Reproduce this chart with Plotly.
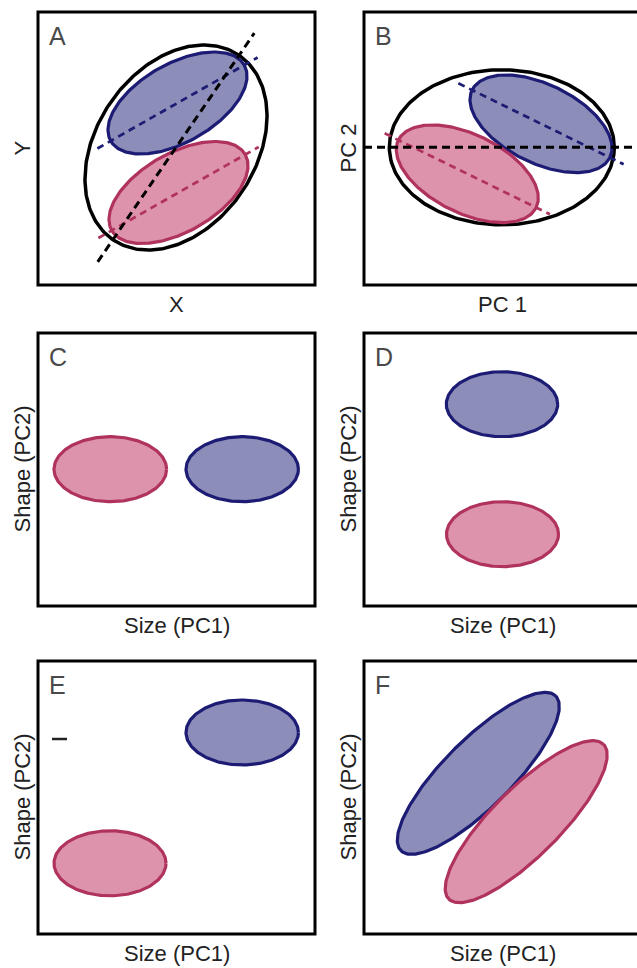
import numpy as np
import plotly.graph_objects as go

W, H = 637, 968

# ---- data (panel-relative units, origin at lower-left of each panel box) ----
panels = ["A", "B", "C", "D", "E", "F"]
x_titles = ["X", "PC 1", "Size (PC1)", "Size (PC1)", "Size (PC1)", "Size (PC1)"]
y_titles = ["Y", "PC 2", "Shape (PC2)", "Shape (PC2)", "Shape (PC2)", "Shape (PC2)"]

blue_cx = [139.5, 177.0, 204.2, 138.0, 204.2, 114.3]
blue_cy = [182.0, 161.2, 136.8, 201.8, 201.5, 160.7]
blue_a = [76.8, 76.7, 56.2, 55.7, 56.2, 109.4]
blue_b = [39.2, 39.3, 32.5, 32.5, 32.5, 34.0]
blue_angle = [29.6, -26.1, 0.0, 0.0, 0.0, 45.0]

pink_cx = [140.5, 103.3, 72.3, 138.5, 72.0, 162.2]
pink_cy = [92.5, 111.2, 136.8, 71.8, 70.7, 112.3]
pink_a = [76.8, 76.7, 56.3, 56.0, 56.0, 109.4]
pink_b = [39.2, 39.3, 32.5, 32.5, 32.5, 34.0]
pink_angle = [29.6, -26.1, 0.0, 0.0, 0.0, 45.0]

total_cx = [138.0, 137.8]
total_cy = [137.5, 137.7]
total_a = [111.7, 112.5]
total_b = [79.5, 77.5]
total_angle = [55.6, 0.0]

# ---- layout geometry (pixels) ----
col_left = [38, 364]
box_w = 277
row_top = [12, 333, 661]
box_h = 273

BLUE_LINE = "#1c1c74"
BLUE_FILL = "rgba(28,28,116,0.50)"
PINK_LINE = "#b0325f"
PINK_FILL = "rgba(190,40,90,0.50)"
FONT = "Liberation Sans, Arial, Helvetica, sans-serif"


def ellipse(cx, cy, a, b, ang, n=240):
    t = np.linspace(0, 2 * np.pi, n)
    th = np.radians(ang)
    x = cx + a * np.cos(t) * np.cos(th) - b * np.sin(t) * np.sin(th)
    y = cy + a * np.cos(t) * np.sin(th) + b * np.sin(t) * np.cos(th)
    return x, y


def major_axis(cx, cy, a, ang, k):
    th = np.radians(ang)
    return ([cx - k * a * np.cos(th), cx + k * a * np.cos(th)],
            [cy - k * a * np.sin(th), cy + k * a * np.sin(th)])


fig = go.Figure()
layout_axes = {}
shapes = []
annotations = []

for i, p in enumerate(panels):
    r, c = divmod(i, 2)
    left = col_left[c]
    top = row_top[r]
    right_px = min(left + box_w, W)
    xr = right_px - left
    sfx = "" if i == 0 else str(i + 1)
    xa, ya = "x" + sfx, "y" + sfx
    layout_axes["xaxis" + sfx] = dict(domain=[left / W, right_px / W], range=[0, xr],
                                      visible=False, anchor=ya, fixedrange=True)
    layout_axes["yaxis" + sfx] = dict(domain=[1 - (top + box_h) / H, 1 - top / H],
                                      range=[0, box_h], visible=False, anchor=xa,
                                      fixedrange=True)

    # total ellipse
    if i < 2:
        ex, ey = ellipse(total_cx[i], total_cy[i], total_a[i], total_b[i], total_angle[i])
        fig.add_trace(go.Scatter(x=ex, y=ey, mode="lines", xaxis=xa, yaxis=ya,
                                 line=dict(color="black", width=3.5), hoverinfo="skip",
                                 showlegend=False))

    for cx, cy, a, b, ang, lc, fc in [
        (blue_cx[i], blue_cy[i], blue_a[i], blue_b[i], blue_angle[i], BLUE_LINE, BLUE_FILL),
        (pink_cx[i], pink_cy[i], pink_a[i], pink_b[i], pink_angle[i], PINK_LINE, PINK_FILL),
    ]:
        ex, ey = ellipse(cx, cy, a, b, ang)
        fig.add_trace(go.Scatter(x=ex, y=ey, mode="lines", fill="toself", fillcolor=fc,
                                 xaxis=xa, yaxis=ya, line=dict(color=lc, width=3.2),
                                 hoverinfo="skip", showlegend=False))

    if i < 2:
        for cx, cy, a, ang, lc in [
            (blue_cx[i], blue_cy[i], blue_a[i], blue_angle[i], BLUE_LINE),
            (pink_cx[i], pink_cy[i], pink_a[i], pink_angle[i], PINK_LINE),
        ]:
            lx, ly = major_axis(cx, cy, a, ang, 1.2)
            fig.add_trace(go.Scatter(x=lx, y=ly, mode="lines", xaxis=xa, yaxis=ya,
                                     line=dict(color=lc, width=2.7, dash="7px,5px"),
                                     hoverinfo="skip", showlegend=False))
        if i == 0:
            lx, ly = major_axis(total_cx[i], total_cy[i], total_a[i], total_angle[i], 1.24)
        else:
            lx, ly = [0, xr], [total_cy[i], total_cy[i]]
        fig.add_trace(go.Scatter(x=lx, y=ly, mode="lines", xaxis=xa, yaxis=ya,
                                 line=dict(color="black", width=3, dash="8px,5px"),
                                 hoverinfo="skip", showlegend=False, cliponaxis=True))

    # box
    shapes.append(dict(type="rect", xref="paper", yref="paper",
                       x0=left / W, x1=(left + box_w) / W,
                       y0=1 - (top + box_h) / H, y1=1 - top / H,
                       line=dict(color="black", width=3), layer="above"))

    # panel letter
    annotations.append(dict(text=p, xref="paper", yref="paper", x=(left + 9) / W,
                            y=1 - (top + 24) / H, xanchor="left", yanchor="middle",
                            showarrow=False, font=dict(family=FONT, size=25, color="#4a4a4a")))
    # axis titles
    annotations.append(dict(text=x_titles[i], xref="paper", yref="paper",
                            x=(left + box_w / 2) / W, y=1 - (top + box_h + 19) / H,
                            xanchor="center", yanchor="middle", showarrow=False,
                            font=dict(family=FONT, size=22, color="#222222")))
    annotations.append(dict(text=y_titles[i], xref="paper", yref="paper",
                            x=(left - 16) / W, y=1 - (top + box_h / 2) / H,
                            xanchor="center", yanchor="middle", textangle=-90,
                            showarrow=False, font=dict(family=FONT, size=22, color="#222222")))

# small stray tick in panel E
shapes.append(dict(type="line", xref="paper", yref="paper", x0=52 / W, x1=67 / W,
                   y0=1 - 739 / H, y1=1 - 739 / H, line=dict(color="#222222", width=2.5)))

fig.update_layout(width=W, height=H, margin=dict(l=0, r=0, t=0, b=0),
                  paper_bgcolor="white", plot_bgcolor="white",
                  shapes=shapes, annotations=annotations, showlegend=False,
                  **layout_axes)

fig.write_html("out.html", config={"displayModeBar": False})
